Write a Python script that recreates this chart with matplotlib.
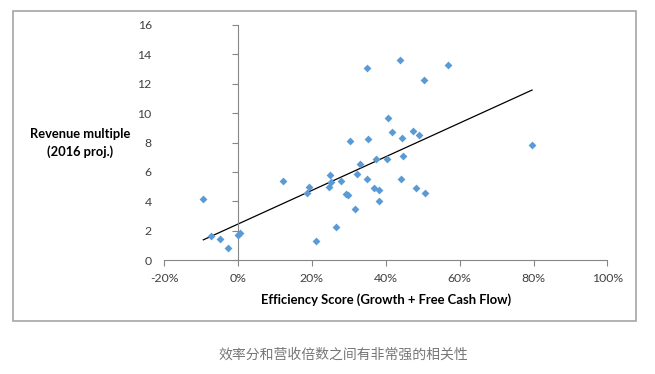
import numpy as np
import matplotlib.pyplot as plt
from matplotlib.patches import Rectangle

# efficiency score (%) vs revenue multiple
efficiency = [-9.4, -7.4, -4.8, -2.8, -0.1, 0.5, 12.1, 18.6, 19.3, 21.2,
              24.5, 25.0, 25.2, 26.4, 27.9, 29.3, 29.7, 30.2, 31.6, 32.2,
              33.0, 35.1, 34.8, 37.3, 36.7, 38.1, 38.1, 35.0, 43.9, 56.9,
              50.4, 40.7, 41.7, 44.3, 47.3, 49.0, 40.2, 44.6, 44.0, 48.1,
              50.5, 79.6]
multiple = [4.14, 1.67, 1.45, 0.86, 1.72, 1.85, 5.38, 4.59, 4.96, 1.29,
            5.00, 5.77, 5.30, 2.28, 5.41, 4.52, 4.44, 8.13, 3.49, 5.84,
            6.52, 8.22, 5.50, 6.88, 4.91, 4.78, 4.03, 13.06, 13.59, 13.25,
            12.27, 9.67, 8.72, 8.31, 8.76, 8.51, 6.88, 7.09, 5.52, 4.91,
            4.59, 7.85]
x_ticks = [-20, 0, 20, 40, 60, 80, 100]
y_ticks = [0, 2, 4, 6, 8, 10, 12, 14, 16]

x = np.array(efficiency)
y = np.array(multiple)

W, H = 655, 374
fig = plt.figure(figsize=(W / 100, H / 100), dpi=100)
plt.rcParams['font.family'] = ['Lato', 'DejaVu Sans']

ax = fig.add_axes([164.2 / W, 1 - 260.3 / H, (607.4 - 164.2) / W, (260.3 - 24.7) / H])
ax.set_xlim(-20, 100)
ax.set_ylim(0, 16)

ax.scatter(x, y, marker='D', s=16, color='#5b9bd5', zorder=3, linewidths=0)

# linear trend line over the data range
k, b = np.polyfit(x, y, 1)
xs = np.array([x.min(), x.max()])
ax.plot(xs, k * xs + b, color='black', lw=0.9, zorder=2)

axis_c = '#868686'
for s in ['top', 'right']:
    ax.spines[s].set_visible(False)
ax.spines['left'].set_position(('data', 0))
ax.spines['left'].set_color(axis_c)
ax.spines['bottom'].set_color(axis_c)

ax.set_xticks(x_ticks)
ax.set_xticklabels([f'{t}%' for t in x_ticks])
ax.set_yticks(y_ticks)
ax.tick_params(axis='x', direction='out', length=4, color=axis_c, pad=5,
               labelsize=8.8, labelcolor='#404040')
ax.tick_params(axis='y', direction='out', length=4, color=axis_c, labelleft=False)

# y tick labels sit at the left edge of the plot area
sec = ax.secondary_yaxis(0)
sec.spines['left'].set_visible(False)
sec.set_yticks(y_ticks)
sec.tick_params(length=0, pad=9, labelsize=8.8, labelcolor='#404040')

fig.text(80 / W, 1 - 143 / H, 'Revenue multiple\n(2016 proj.)', ha='center', va='center',
         fontsize=9.3, fontweight='bold', color='black', linespacing=1.5)
fig.text(386 / W, 1 - 300 / H, 'Efficiency Score (Growth + Free Cash Flow)', ha='center',
         va='center', fontsize=9.4, fontweight='bold', color='black')

# chart border
fig.patches.append(Rectangle((13 / W, 1 - 321 / H), (635.7 - 13) / W, (321 - 11) / H,
                             transform=fig.transFigure, fill=False, ec='#a6a6a6', lw=1.2))

fig.text(343.5 / W, 1 - 355 / H, '效率分和营收倍数之间有非常强的相关性', ha='center', va='center',
         fontsize=10, color='#777777', family=['Noto Sans CJK SC', 'DejaVu Sans'])

fig.savefig('out.png', dpi=100)
